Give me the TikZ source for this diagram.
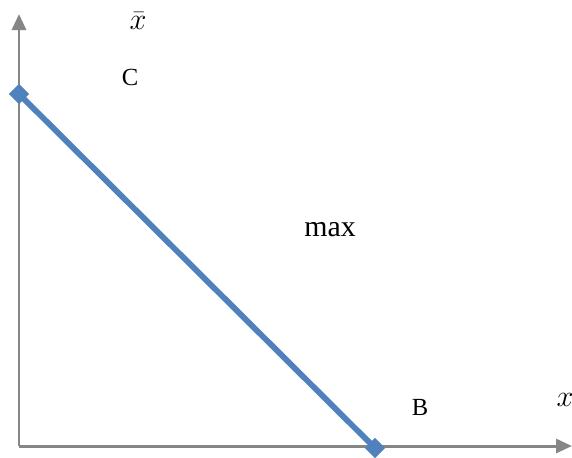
\documentclass[tikz,border=0pt]{standalone}
\usepackage{fontspec}
\setmainfont{Liberation Serif}
\usepackage{tikz}
\usetikzlibrary{arrows.meta,shapes.geometric}
\definecolor{axisgray}{RGB}{134,134,134}
\definecolor{lineblue}{RGB}{79,129,189}

\begin{document}
\begin{tikzpicture}
\useasboundingbox (0,0) rectangle (11.44,9.14);
\tikzset{
  axis/.style={line width=1.7pt, color=axisgray, -{Triangle[length=0.32cm,width=0.28cm]}},
  budget/.style={line width=3.3pt, color=lineblue},
  marker/.style={diamond, fill=lineblue, inner sep=0pt, minimum size=0.4cm},
  lbl/.style={font=\fontsize{14}{16}\selectfont},
  mlbl/.style={font=\fontsize{16}{18}\selectfont}
}
% axes
\coordinate (o) at (0.38,0.22);
\coordinate (ytip) at (0.38,8.86);
\coordinate (xtip) at (11.44,0.22);
\draw[axis] (o) -- (ytip);
\draw[axis] (o) -- (xtip);
% line between the two corner points
\node[marker] (cpt) at (0.38,7.26) {};
\node[marker] (bpt) at (7.5,0.18) {};
\draw[budget] (cpt.center) -- (bpt.center);
\node[marker] at (cpt.center) {};
\node[marker] at (bpt.center) {};
% labels
\node[mlbl] (xbar) at (2.76,8.72) {$\bar{x}$};
\node[lbl] (clbl) at (2.6,7.6) {C};
\node[font=\fontsize{17}{19}\selectfont] (maxlbl) at (6.6,4.54) {max};
\node[lbl] (blbl) at (8.4,1.0) {B};
\node[mlbl] (xlbl) at (11.3,1.14) {$x$};
\end{tikzpicture}
\end{document}
